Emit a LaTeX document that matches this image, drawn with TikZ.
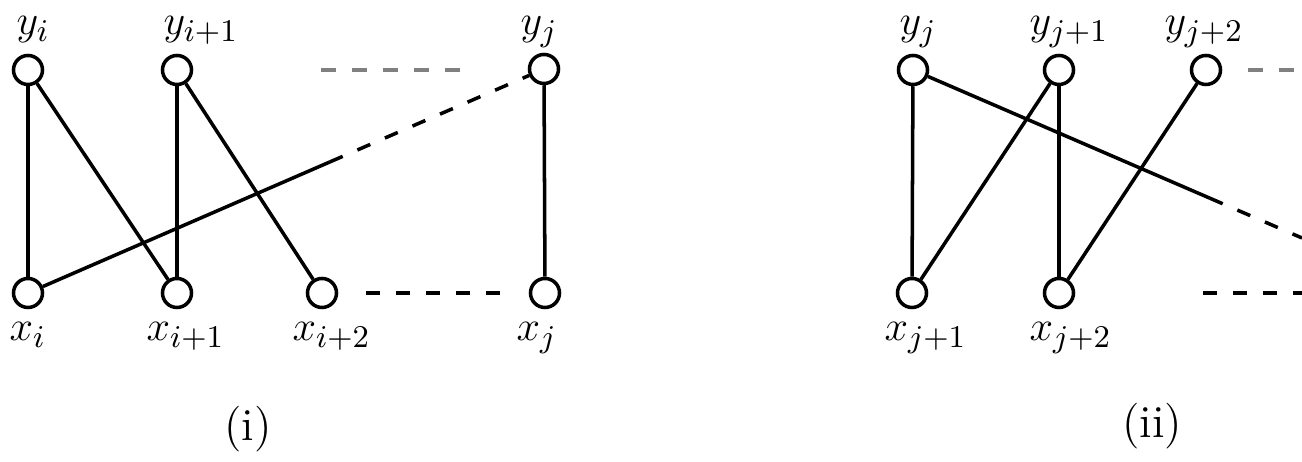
\documentclass[tikz,border=0pt]{standalone}
\usetikzlibrary{calc}
\begin{document}
\begin{tikzpicture}[x=0.01cm,y=-0.01cm,
  vtx/.style={circle,draw,line width=1pt,minimum size=0.29cm,inner sep=0pt},
  edge/.style={line width=1pt},
  dedge/.style={line width=1pt,dash pattern=on 0.14cm off 0.16cm},
  gdash/.style={line width=1pt,black!50,dash pattern=on 0.15cm off 0.16cm},
  lab/.style={anchor=base west,inner sep=0pt,font=\fontsize{13}{15}\selectfont},
  captxt/.style={anchor=base,inner sep=0pt,font=\fontsize{13}{15}\selectfont}]
\useasboundingbox (0,0) rectangle (1302,462);
% ----- panel (i)
\node[vtx] (yi)  at (28,70) {};
\node[vtx] (yi1) at (177,70) {};
\node[vtx] (yj)  at (544,69) {};
\node[vtx] (xi)  at (28,293) {};
\node[vtx] (xi1) at (177,293) {};
\node[vtx] (xi2) at (322,293) {};
\node[vtx] (xj)  at (545,293) {};
\node[lab] (lyi)  at (16,35) {$y_i$};
\node[lab] (lyi1) at (163,35) {$y_{i+1}$};
\node[lab] (lyj)  at (520,35) {$y_j$};
\node[lab] (lxi)  at (9,341) {$x_i$};
\node[lab] (lxi1) at (146,341) {$x_{i+1}$};
\node[lab] (lxi2) at (292,341) {$x_{i+2}$};
\node[lab] (lxj)  at (516,341) {$x_j$};
\draw[edge] (yi) -- (xi);
\draw[edge] (yi) -- (xi1);
\draw[edge] (yi1) -- (xi1);
\draw[edge] (yi1) -- (xi2);
\draw[edge] (yj) -- (xj);
\coordinate (m1) at ($(xi)!0.585!(yj)$);
\draw[edge] (xi) -- (m1);
\draw[dedge] (m1) -- (yj);
\coordinate (t1) at (321,70);
\coordinate (t2) at (462,70);
\draw[gdash] (t1) -- (t2);
\coordinate (b1) at (366,293);
\coordinate (b2) at (503,293);
\draw[dedge] (b1) -- (b2);
\node[captxt] (ci) at (248,441) {(i)};
% ----- panel (ii)
\node[vtx] (yJ)  at (913,70) {};
\node[vtx] (yJ1) at (1059,70) {};
\node[vtx] (yJ2) at (1206,70) {};
\node[vtx] (xJ1) at (912,293) {};
\node[vtx] (xJ2) at (1059,293) {};
\node[lab] (lyJ)  at (899,35) {$y_j$};
\node[lab] (lyJ1) at (1029,35) {$y_{j+1}$};
\node[lab] (lyJ2) at (1164,35) {$y_{j+2}$};
\node[lab] (lxJ1) at (884,341) {$x_{j+1}$};
\node[lab] (lxJ2) at (1029,341) {$x_{j+2}$};
\draw[edge] (yJ) -- (xJ1);
\draw[edge] (yJ1) -- (xJ1);
\draw[edge] (yJ1) -- (xJ2);
\draw[edge] (yJ2) -- (xJ2);
\coordinate (e2) at (1302,238);
\coordinate (m2) at ($(yJ)!0.763!(e2)$);
\draw[edge] (yJ) -- (m2);
\draw[dedge] (m2) -- (e2);
\coordinate (t3) at (1248,70);
\coordinate (t4) at (1302,70);
\draw[gdash] (t3) -- (t4);
\coordinate (b3) at (1203,293);
\coordinate (b4) at (1302,293);
\draw[dedge] (b3) -- (b4);
\node[captxt] (cii) at (1152,438) {(ii)};
\end{tikzpicture}
\end{document}
